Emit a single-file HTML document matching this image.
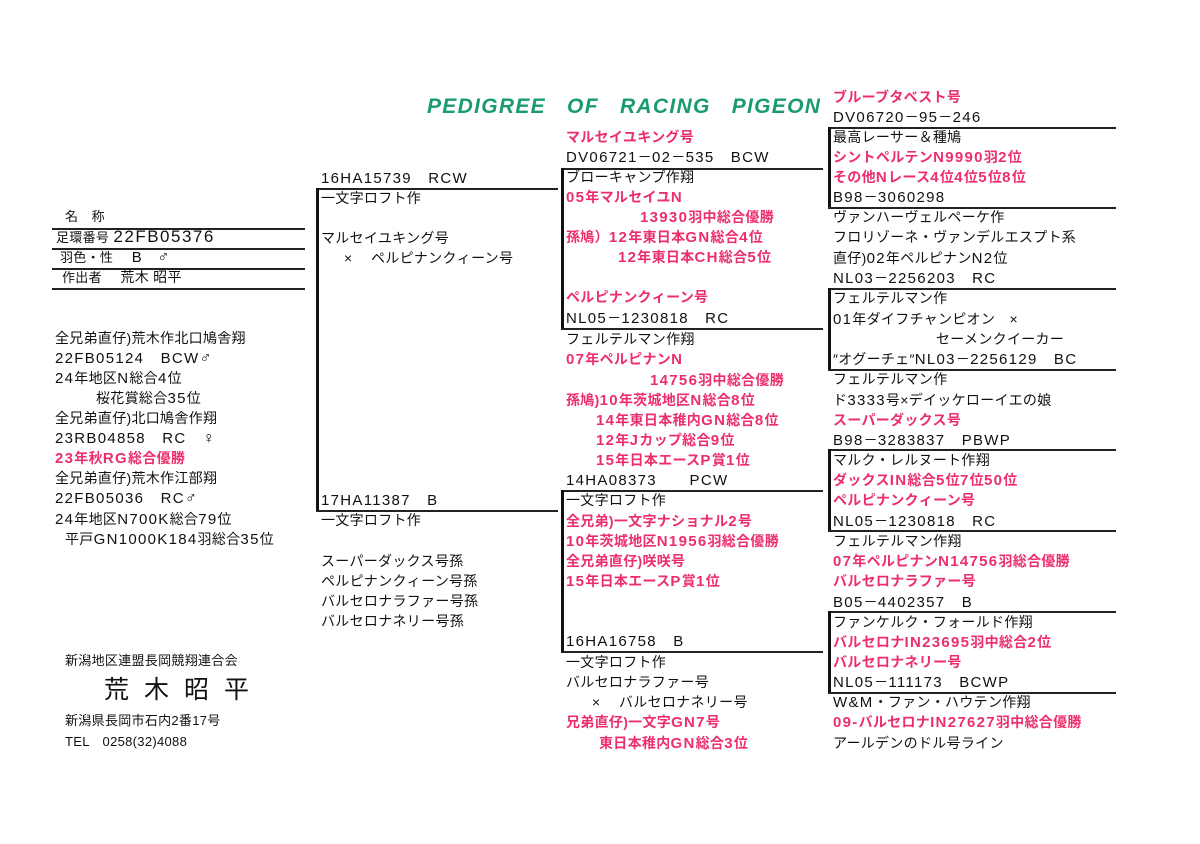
<!DOCTYPE html>
<html><head><meta charset="utf-8"><style>
body{margin:0;background:#fff;width:1200px;height:844px;position:relative;overflow:hidden;font-family:"Liberation Sans","Noto Sans CJK JP",sans-serif;color:#111;}
.t{position:absolute;font-size:14px;line-height:20px;white-space:nowrap;letter-spacing:0.3px}
.l{font-size:15px;letter-spacing:1.3px}
.r{color:#ec2f6b;font-weight:bold}
.h{position:absolute;height:1.5px;background:#222}
.v{position:absolute;width:3px;background:#111}
</style></head><body>
<div class="t" style="left:427px;top:94px;font-size:21px;line-height:26px;font-weight:bold;font-style:italic;color:#1a9a72;letter-spacing:1.3px;word-spacing:14px">PEDIGREE OF RACING PIGEON</div>

<div class="t" style="left:65px;top:207px;font-size:13px">名　称</div>
<div class="t" style="left:56px;top:227px"><span style="font-size:13px">足環番号</span> <span style="font-size:17px;letter-spacing:1.5px">22FB05376</span></div>
<div class="t" style="left:60px;top:247px"><span style="font-size:13px">羽色・性</span>　 <span class="l">B</span>　<span style="font-size:16px">♂</span></div>
<div class="t" style="left:62px;top:267px"><span style="font-size:13px">作出者</span>　 荒木 昭平</div>
<div class="h" style="left:52px;top:228px;width:253px"></div>
<div class="h" style="left:52px;top:248px;width:253px"></div>
<div class="h" style="left:52px;top:268px;width:253px"></div>
<div class="h" style="left:52px;top:288px;width:253px"></div>

<div class="t" style="left:55px;top:328px">全兄弟直仔)荒木作北口鳩舎翔</div>
<div class="t" style="left:55px;top:348px"><span class="l">22FB05124　BCW</span><span style="font-size:16px">♂</span></div>
<div class="t" style="left:55px;top:368px"><span class="l">24</span>年地区<span class="l">N</span>総合<span class="l">4</span>位</div>
<div class="t" style="left:96px;top:388px">桜花賞総合<span class="l">35</span>位</div>
<div class="t" style="left:55px;top:408px">全兄弟直仔)北口鳩舎作翔</div>
<div class="t" style="left:55px;top:428px"><span class="l">23RB04858　RC　</span><span style="font-size:16px">♀</span></div>
<div class="t r" style="left:55px;top:448px"><span class="l">23</span>年秋<span class="l">RG</span>総合優勝</div>
<div class="t" style="left:55px;top:468px">全兄弟直仔)荒木作江部翔</div>
<div class="t" style="left:55px;top:488px"><span class="l">22FB05036　RC</span><span style="font-size:16px">♂</span></div>
<div class="t" style="left:55px;top:509px"><span class="l">24</span>年地区<span class="l">N700K</span>総合<span class="l">79</span>位</div>
<div class="t" style="left:65px;top:529px">平戸<span class="l">GN1000K184</span>羽総合<span class="l">35</span>位</div>

<div class="t" style="left:65px;top:651px;font-size:13px">新潟地区連盟長岡競翔連合会</div>
<div class="t" style="left:104px;top:675px;font-size:25px;line-height:30px;letter-spacing:15px">荒木昭平</div>
<div class="t" style="left:65px;top:711px;font-size:13px">新潟県長岡市石内2番17号</div>
<div class="t" style="left:65px;top:732px;font-size:13px">TEL　0258(32)4088</div>

<!-- col2 -->
<div class="h" style="left:316px;top:188px;width:242px"></div>
<div class="v" style="left:316px;top:188px;height:323px"></div>
<div class="h" style="left:316px;top:510px;width:242px"></div>
<div class="t" style="left:321px;top:168px"><span class="l">16HA15739　RCW</span></div>
<div class="t" style="left:321px;top:188px">一文字ロフト作</div>
<div class="t" style="left:321px;top:228px">マルセイユキング号</div>
<div class="t" style="left:344px;top:248px">×　 ペルピナンクィーン号</div>
<div class="t" style="left:321px;top:490px"><span class="l">17HA11387　B</span></div>
<div class="t" style="left:321px;top:510px">一文字ロフト作</div>
<div class="t" style="left:321px;top:551px">スーパーダックス号孫</div>
<div class="t" style="left:321px;top:571px">ペルピナンクィーン号孫</div>
<div class="t" style="left:321px;top:591px">バルセロナラファー号孫</div>
<div class="t" style="left:321px;top:611px">バルセロナネリー号孫</div>

<!-- col3 -->
<div class="h" style="left:561px;top:168px;width:262px"></div>
<div class="v" style="left:561px;top:168px;height:161px"></div>
<div class="h" style="left:561px;top:328px;width:262px"></div>
<div class="h" style="left:561px;top:490px;width:262px"></div>
<div class="v" style="left:561px;top:490px;height:162px"></div>
<div class="h" style="left:561px;top:651px;width:262px"></div>
<div class="t r" style="left:566px;top:127px">マルセイユキング号</div>
<div class="t" style="left:566px;top:147px"><span class="l">DV06721</span>－<span class="l">02</span>－<span class="l">535　BCW</span></div>
<div class="t" style="left:566px;top:167px">ブローキャンプ作翔</div>
<div class="t r" style="left:566px;top:187px"><span class="l">05</span>年マルセイユ<span class="l">N</span></div>
<div class="t r" style="left:640px;top:207px"><span class="l">13930</span>羽中総合優勝</div>
<div class="t r" style="left:566px;top:227px">孫鳩）<span class="l">12</span>年東日本<span class="l">GN</span>総合<span class="l">4</span>位</div>
<div class="t r" style="left:618px;top:247px"><span class="l">12</span>年東日本<span class="l">CH</span>総合<span class="l">5</span>位</div>
<div class="t r" style="left:566px;top:287px">ペルピナンクィーン号</div>
<div class="t" style="left:566px;top:308px"><span class="l">NL05</span>－<span class="l">1230818　RC</span></div>
<div class="t" style="left:566px;top:329px">フェルテルマン作翔</div>
<div class="t r" style="left:566px;top:349px"><span class="l">07</span>年ペルピナン<span class="l">N</span></div>
<div class="t r" style="left:650px;top:370px"><span class="l">14756</span>羽中総合優勝</div>
<div class="t r" style="left:566px;top:390px">孫鳩)<span class="l">10</span>年茨城地区<span class="l">N</span>総合<span class="l">8</span>位</div>
<div class="t r" style="left:596px;top:410px"><span class="l">14</span>年東日本稚内<span class="l">GN</span>総合<span class="l">8</span>位</div>
<div class="t r" style="left:596px;top:430px"><span class="l">12</span>年<span class="l">J</span>カップ総合<span class="l">9</span>位</div>
<div class="t r" style="left:596px;top:450px"><span class="l">15</span>年日本エース<span class="l">P</span>賞<span class="l">1</span>位</div>
<div class="t" style="left:566px;top:470px"><span class="l">14HA08373　　PCW</span></div>
<div class="t" style="left:566px;top:490px">一文字ロフト作</div>
<div class="t r" style="left:566px;top:511px">全兄弟)一文字ナショナル<span class="l">2</span>号</div>
<div class="t r" style="left:566px;top:531px"><span class="l">10</span>年茨城地区<span class="l">N1956</span>羽総合優勝</div>
<div class="t r" style="left:566px;top:551px">全兄弟直仔)咲咲号</div>
<div class="t r" style="left:566px;top:571px"><span class="l">15</span>年日本エース<span class="l">P</span>賞<span class="l">1</span>位</div>
<div class="t" style="left:566px;top:631px"><span class="l">16HA16758　B</span></div>
<div class="t" style="left:566px;top:652px">一文字ロフト作</div>
<div class="t" style="left:566px;top:672px">バルセロナラファー号</div>
<div class="t" style="left:592px;top:692px">×　 バルセロナネリー号</div>
<div class="t r" style="left:566px;top:712px">兄弟直仔)一文字<span class="l">GN7</span>号</div>
<div class="t r" style="left:599px;top:733px">東日本稚内<span class="l">GN</span>総合<span class="l">3</span>位</div>

<!-- col4 -->
<div class="h" style="left:828px;top:127px;width:288px"></div>
<div class="v" style="left:828px;top:127px;height:81px"></div>
<div class="h" style="left:828px;top:207px;width:288px"></div>
<div class="h" style="left:828px;top:288px;width:288px"></div>
<div class="v" style="left:828px;top:288px;height:82px"></div>
<div class="h" style="left:828px;top:369px;width:288px"></div>
<div class="h" style="left:828px;top:449px;width:288px"></div>
<div class="v" style="left:828px;top:449px;height:82px"></div>
<div class="h" style="left:828px;top:530px;width:288px"></div>
<div class="h" style="left:828px;top:611px;width:288px"></div>
<div class="v" style="left:828px;top:611px;height:82px"></div>
<div class="h" style="left:828px;top:692px;width:288px"></div>
<div class="t r" style="left:833px;top:87px">ブルーブタベスト号</div>
<div class="t" style="left:833px;top:107px"><span class="l">DV06720</span>－<span class="l">95</span>－<span class="l">246</span></div>
<div class="t" style="left:833px;top:127px">最高レーサー＆種鳩</div>
<div class="t r" style="left:833px;top:147px">シントペルテン<span class="l">N9990</span>羽<span class="l">2</span>位</div>
<div class="t r" style="left:833px;top:167px">その他<span class="l">N</span>レース<span class="l">4</span>位<span class="l">4</span>位<span class="l">5</span>位<span class="l">8</span>位</div>
<div class="t" style="left:833px;top:187px"><span class="l">B98</span>－<span class="l">3060298</span></div>
<div class="t" style="left:833px;top:207px">ヴァンハーヴェルペーケ作</div>
<div class="t" style="left:833px;top:227px">フロリゾーネ・ヴァンデルエスプト系</div>
<div class="t" style="left:833px;top:248px">直仔)<span class="l">02</span>年ペルピナン<span class="l">N2</span>位</div>
<div class="t" style="left:833px;top:268px"><span class="l">NL03</span>－<span class="l">2256203　RC</span></div>
<div class="t" style="left:833px;top:288px">フェルテルマン作</div>
<div class="t" style="left:833px;top:309px"><span class="l">01</span>年ダイフチャンピオン　×</div>
<div class="t" style="left:936px;top:329px">セーメンクイーカー</div>
<div class="t" style="left:833px;top:349px">″オグーチェ″<span class="l">NL03</span>－<span class="l">2256129　BC</span></div>
<div class="t" style="left:833px;top:369px">フェルテルマン作</div>
<div class="t" style="left:833px;top:390px">ド<span class="l">3333</span>号×デイッケローイエの娘</div>
<div class="t r" style="left:833px;top:410px">スーパーダックス号</div>
<div class="t" style="left:833px;top:430px"><span class="l">B98</span>－<span class="l">3283837　PBWP</span></div>
<div class="t" style="left:833px;top:450px">マルク・レルヌート作翔</div>
<div class="t r" style="left:833px;top:470px">ダックス<span class="l">IN</span>総合<span class="l">5</span>位<span class="l">7</span>位<span class="l">50</span>位</div>
<div class="t r" style="left:833px;top:490px">ペルピナンクィーン号</div>
<div class="t" style="left:833px;top:511px"><span class="l">NL05</span>－<span class="l">1230818　RC</span></div>
<div class="t" style="left:833px;top:531px">フェルテルマン作翔</div>
<div class="t r" style="left:833px;top:551px"><span class="l">07</span>年ペルピナン<span class="l">N14756</span>羽総合優勝</div>
<div class="t r" style="left:833px;top:571px">バルセロナラファー号</div>
<div class="t" style="left:833px;top:592px"><span class="l">B05</span>－<span class="l">4402357　B</span></div>
<div class="t" style="left:833px;top:612px">ファンケルク・フォールド作翔</div>
<div class="t r" style="left:833px;top:632px">バルセロナ<span class="l">IN23695</span>羽中総合<span class="l">2</span>位</div>
<div class="t r" style="left:833px;top:652px">バルセロナネリー号</div>
<div class="t" style="left:833px;top:672px"><span class="l">NL05</span>－<span class="l">111173　BCWP</span></div>
<div class="t" style="left:833px;top:692px"><span class="l">W&amp;M</span>・ファン・ハウテン作翔</div>
<div class="t r" style="left:833px;top:712px"><span class="l">09-</span>バルセロナ<span class="l">IN27627</span>羽中総合優勝</div>
<div class="t" style="left:833px;top:733px">アールデンのドル号ライン</div>
</body></html>
